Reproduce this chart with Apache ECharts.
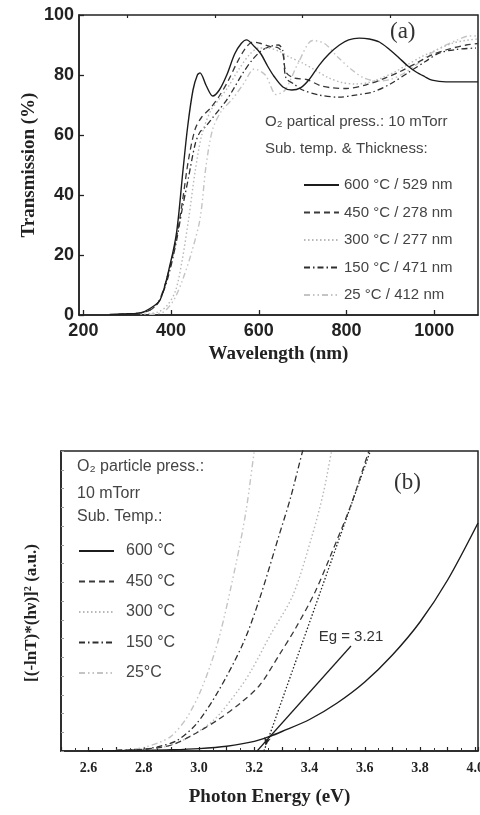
<!DOCTYPE html>
<html><head><meta charset="utf-8">
<script src="https://cdn.jsdelivr.net/npm/echarts@6/dist/echarts.min.js"></script>
<style>html,body{margin:0;padding:0;background:#fff}#c{width:480px;height:815px}</style>
</head><body><div id="c"></div>
<script>
// ---------- Panel (a): transmission spectra ----------
const wlTicks = [200, 400, 600, 800, 1000];
const wlMinor = [300, 500, 700, 900];
const namesA = ['600 °C / 529 nm', '450 °C / 278 nm', '300 °C / 277 nm', '150 °C / 471 nm', '25 °C / 412 nm'];

const wl600 = [260,300,330,350,375,398,413,427,438,450,460,466,480,495,510,527,545,560,572,590,605,620,635,655,675,695,715,738,760,784,805,829,852,875,898,920,940,959,978,995,1027,1060,1100];
const t600  = [0.2,0.4,0.7,2,5,17,28,48,63,75,80,80.7,76.5,73,75,80,87,90.5,91.7,89.5,87,83,79.5,76,75,75.7,78.5,83.3,87,90,91.7,92.3,92,91,88.5,85.7,83,81,79.5,78.3,77.7,77.7,77.7];

const wl450 = [280,320,350,370,390,410,425,440,455,470,490,510,530,550,570,586,605,625,645,655,662,680,709,740,768,800,845,880,920,960,995,1030,1073,1100];
const t450  = [0.2,0.5,1.5,4,12,24,37,52,62,66,69,73,78,84,89,91,90.5,89.5,89,87,81,79,78.5,76.5,75.7,75.5,76.7,78.5,81,84,86.7,88.5,90,90.5];

const wl300 = [330,370,390,410,425,440,455,470,490,510,530,555,580,600,620,645,670,700,730,760,790,820,850,880,910,940,970,1000,1040,1070,1100];
const t300  = [0.2,1,3,8,18,32,48,60,68,72,76,82,87,89,89,88,86,84,81.5,79,77.5,77,77.5,79,81,83.5,86,88,90.5,91.5,92];

const wl150 = [280,320,350,370,390,410,425,440,455,466,480,496,510,527,545,564,585,605,625,645,655,662,680,700,738,784,820,859,900,943,980,1011,1050,1095];
const t150  = [0.2,0.5,1.5,4,11,23,35,46,57,61,63,66,68.5,71.7,76,80.7,85,88,89.5,90,88,79,77,75,73.3,72.6,73.3,74.3,77,81,84.5,87.3,88.5,89];

const wl25 = [350,380,395,410,427,445,466,480,495,515,540,565,590,615,640,660,690,723,750,780,810,840,870,900,930,960,990,1020,1050,1080,1100];
const t25  = [0.2,0.8,2.7,6,12,20,32,50,62,68,72,77,82,80,73.5,75,84,91.5,90.5,86,82,79,78,78.5,80.5,83.5,87,89.5,91.5,93,93];

// ---------- Panel (b): Tauc plot ----------
const namesB = ['600 °C', '450 °C', '300 °C', '150 °C', '25°C'];

const e600 = [2.6,2.7,2.8,2.9,3.0,3.1,3.2,3.26,3.3,3.4,3.5,3.6,3.7,3.8,3.9,4.01];
const y600 = [0,0.1,0.2,0.4,0.8,1.6,3.2,5.0,6.5,10.5,16,23,32,43,57,76];

const e450 = [2.7,2.8,2.9,2.98,3.07,3.15,3.22,3.29,3.35,3.42,3.48,3.55,3.615,3.64];
const y450 = [0.2,0.6,2,5.5,10.5,16,22,32,41,53,66,82,100,106];

const e300 = [2.7,2.8,2.88,2.95,3.05,3.14,3.19,3.26,3.34,3.41,3.45,3.48,3.5];
const y300 = [0.2,0.5,1.5,4,10,20,27,39,52,72,86,100,108];

const e150 = [2.7,2.8,2.86,2.92,2.99,3.07,3.16,3.22,3.29,3.33,3.375,3.4];
const y150 = [0.2,0.6,1.6,3.5,9,20,36,51,72,84,100,108];

const e25 = [2.7,2.75,2.8,2.86,2.9,2.955,3.01,3.07,3.135,3.17,3.2,3.22];
const y25 = [0.2,0.5,1.2,3,5,11,21,37,63,80,100,112];

const tangent600E = [3.21, 3.55];
const tangent600Y = [0, 35];
const tangent450E = [3.235, 3.62];
const tangent450Y = [0, 100];
const egLabel = 'Eg = 3.21';

// ---------- styles ----------
const styles = [
  {color: '#1c1c1c', type: 'solid', width: 1.4},
  {color: '#3a3a3a', type: [6, 4], width: 1.3},
  {color: '#b8b8b8', type: [1.5, 2.5], width: 1.4},
  {color: '#2e2e2e', type: [6, 3, 1.5, 3], width: 1.3},
  {color: '#c4c4c4', type: [6, 3, 1.5, 3, 1.5, 3], width: 1.4}
];
const zip = (a, b) => a.map((v, i) => [v, b[i]]);
const dataA = [zip(wl600, t600), zip(wl450, t450), zip(wl300, t300), zip(wl150, t150), zip(wl25, t25)];
const dataB = [zip(e600, y600), zip(e450, y450), zip(e300, y300), zip(e150, y150), zip(e25, y25)];

const sansFont = 'Liberation Sans';
const serifFont = 'Liberation Serif';

const series = [];
dataA.forEach((d, i) => series.push({
  name: namesA[i], type: 'line', xAxisIndex: 0, yAxisIndex: 0, data: d,
  showSymbol: false, symbol: 'none', smooth: 0.3, lineStyle: styles[i], itemStyle: {color: styles[i].color},
  z: 10 - i
}));
dataB.forEach((d, i) => series.push({
  name: namesB[i], type: 'line', xAxisIndex: 2, yAxisIndex: 1, data: d,
  showSymbol: false, symbol: 'none', smooth: 0.3, lineStyle: styles[i], itemStyle: {color: styles[i].color},
  z: 10 - i
}));
series.push({
  name: 'tangent600', type: 'line', xAxisIndex: 2, yAxisIndex: 1, data: zip(tangent600E, tangent600Y),
  showSymbol: false, symbol: 'none', lineStyle: {color: '#1c1c1c', width: 1.2},
  markPoint: {
    symbol: 'circle', symbolSize: 1, itemStyle: {color: 'rgba(0,0,0,0)'},
    data: [{coord: [tangent600E[1], tangent600Y[1]], label: {show: true, position: 'top', distance: 1, formatter: egLabel, fontSize: 15, fontFamily: sansFont, color: '#333'}}]
  }
});
series.push({
  name: 'tangent450', type: 'line', xAxisIndex: 2, yAxisIndex: 1, data: zip(tangent450E, tangent450Y),
  showSymbol: false, symbol: 'none', lineStyle: {color: '#222', width: 1.3, type: [1.5, 2]},
  markPoint: {
    symbol: 'arrow', symbolSize: [5, 8], symbolRotate: 165, itemStyle: {color: '#222'},
    label: {show: false},
    data: [{coord: [tangent450E[0] + 0.005, 1.8]}]
  }
});

const axisLineStyle = {lineStyle: {color: '#222', width: 1.5}};

const option = {
  animation: false,
  backgroundColor: '#fff',
  grid: [
    {left: 79, right: 2, top: 15, height: 300, show: true, borderColor: '#222', borderWidth: 1.5, outerBoundsMode: 'none', containLabel: false},
    {left: 61, right: 2, top: 451, height: 300, show: true, borderColor: '#222', borderWidth: 1.5, outerBoundsMode: 'none', containLabel: false}
  ],
  xAxis: [
    {
      type: 'value', gridIndex: 0, min: 190, max: 1100,
      axisLine: axisLineStyle, splitLine: {show: false},
      axisTick: {inside: true, length: 5, customValues: wlTicks, lineStyle: {color: '#222', width: 1.3}},
      axisLabel: {customValues: wlTicks, formatter: v => String(v), fontSize: 18, fontWeight: 'bold', fontFamily: sansFont, color: '#222', margin: 7},
      name: 'Wavelength (nm)', nameLocation: 'middle', nameGap: 30, nameMoveOverlap: false,
      nameTextStyle: {fontSize: 19, fontWeight: 'bold', fontFamily: serifFont, color: '#222'}
    },
    {
      type: 'value', gridIndex: 0, min: 190, max: 1100,
      axisLine: {show: false}, splitLine: {show: false}, axisLabel: {show: false},
      axisTick: {inside: true, length: 3, customValues: wlMinor, lineStyle: {color: '#222', width: 1.2}}
    },
    {
      type: 'value', gridIndex: 1, min: 2.5, max: 4.01, interval: 0.1,
      axisLine: axisLineStyle, splitLine: {show: false},
      axisTick: {inside: true, length: 4, lineStyle: {color: '#222', width: 1.2}},
      minorTick: {show: true, splitNumber: 2, length: 3, lineStyle: {color: '#333', width: 1}},
      axisLabel: {
        fontSize: 14, fontWeight: 'bold', fontFamily: serifFont, color: '#222', margin: 10, hideOverlap: false,
        formatter: v => (Math.abs(v * 5 - Math.round(v * 5)) < 1e-6 && v > 2.55) ? v.toFixed(1) : ''
      },
      name: 'Photon Energy (eV)', nameLocation: 'middle', nameGap: 37, nameMoveOverlap: false,
      nameTextStyle: {fontSize: 19, fontWeight: 'bold', fontFamily: serifFont, color: '#222'}
    }
  ],
  yAxis: [
    {
      type: 'value', gridIndex: 0, min: 0, max: 100, interval: 20,
      axisLine: axisLineStyle, splitLine: {show: false},
      axisTick: {inside: true, length: 5, lineStyle: {color: '#222', width: 1.3}},
      axisLabel: {fontSize: 18, fontWeight: 'bold', fontFamily: sansFont, color: '#222', margin: 5},
      name: 'Transmission (%)', nameLocation: 'middle', nameGap: 40, nameMoveOverlap: false,
      nameTextStyle: {fontSize: 19, fontWeight: 'bold', fontFamily: serifFont, color: '#222'}
    },
    {
      type: 'value', gridIndex: 1, min: 0, max: 100, interval: 6.25,
      axisLine: axisLineStyle, splitLine: {show: false},
      axisTick: {inside: true, length: 3, lineStyle: {color: '#999', width: 1}},
      axisLabel: {show: false}
    }
  ],
  legend: [
    {
      data: namesA, orient: 'vertical', left: 298, top: 172, itemWidth: 35, itemHeight: 14, itemGap: 11.5,
      selectedMode: false, itemStyle: {opacity: 0},
      textStyle: {fontSize: 15, fontFamily: sansFont, color: '#444', lineHeight: 16}
    },
    {
      data: namesB, orient: 'vertical', left: 73, top: 538, itemWidth: 35, itemHeight: 16, itemGap: 14.5,
      selectedMode: false, itemStyle: {opacity: 0},
      textStyle: {fontSize: 16, fontFamily: sansFont, color: '#444', lineHeight: 16, padding: [0, 0, 0, 7]}
    }
  ],
  graphic: [
    {type: 'text', left: 265, top: 114, style: {text: 'O₂ partical press.: 10 mTorr', fontSize: 15, fontFamily: sansFont, fill: '#444'}},
    {type: 'text', left: 265, top: 141, style: {text: 'Sub. temp. & Thickness:', fontSize: 15, fontFamily: sansFont, fill: '#444'}},
    {type: 'text', left: 390, top: 20, style: {text: '(a)', fontSize: 23, fontFamily: serifFont, fill: '#333'}},
    {type: 'text', left: 77, top: 459, style: {text: 'O₂ particle press.:', fontSize: 16, fontFamily: sansFont, fill: '#444'}},
    {type: 'text', left: 77, top: 486, style: {text: '10 mTorr', fontSize: 16, fontFamily: sansFont, fill: '#444'}},
    {type: 'text', left: 77, top: 509, style: {text: 'Sub. Temp.:', fontSize: 16, fontFamily: sansFont, fill: '#444'}},
    {type: 'text', left: 394, top: 471, style: {text: '(b)', fontSize: 23, fontFamily: serifFont, fill: '#333'}},
    {type: 'text', x: 32, y: 613, rotation: Math.PI / 2,
      style: {text: '[(-lnT)*(hν)]² (a.u.)', fontSize: 17, fontWeight: 'bold', fontFamily: serifFont, fill: '#222', align: 'center', verticalAlign: 'middle'}}
  ],
  series: series
};

const chart = echarts.init(document.getElementById('c'), null, {renderer: 'canvas'});
chart.setOption(option);
</script></body></html>
